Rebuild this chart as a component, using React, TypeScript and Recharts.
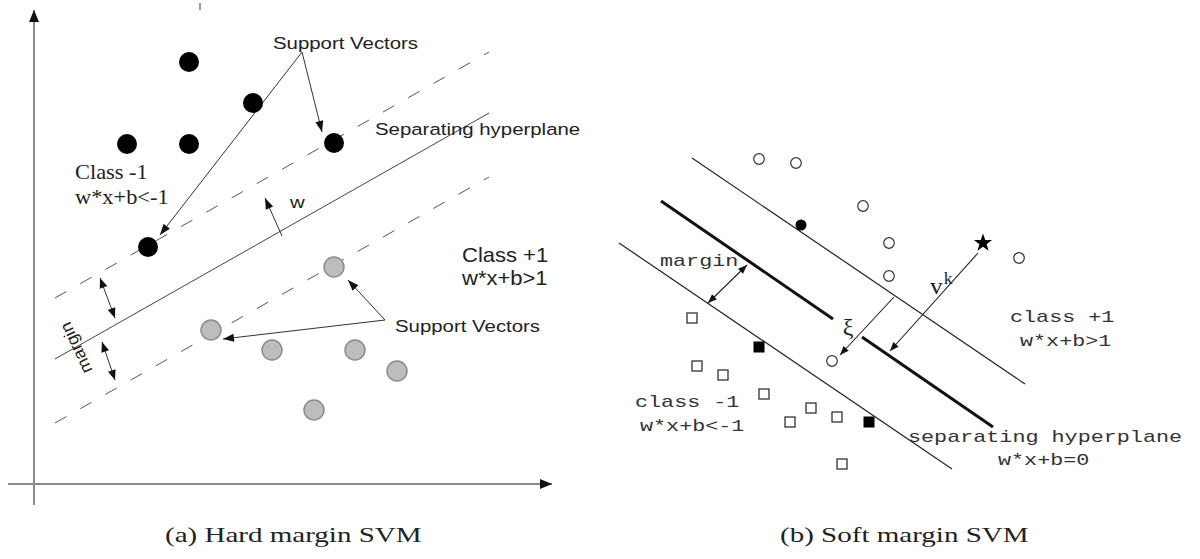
import React from "react";
import { ScatterChart, Scatter, XAxis, YAxis, ReferenceLine } from "recharts";

type Pt = { x: number; y: number };
type Label = { x: number; y: number; text: string; sup?: string };
type Seg = [number, number][];

// ---------- (a) hard margin: 1 unit = 10px, origin where the axes cross ----------
const hardClassNeg: Pt[] = [
  { x: 15.5, y: 42.2 },
  { x: 21.9, y: 38.1 },
  { x: 9.3, y: 34.0 },
  { x: 15.5, y: 34.0 },
  { x: 30.0, y: 34.1 },
  { x: 11.4, y: 23.7 },
];
const hardClassPos: Pt[] = [
  { x: 30.0, y: 21.7 },
  { x: 17.7, y: 15.4 },
  { x: 23.8, y: 13.4 },
  { x: 32.1, y: 13.4 },
  { x: 36.3, y: 11.3 },
  { x: 28.0, y: 7.4 },
];
const hardHyperplane: Seg = [[2.1, 12.5], [45.5, 37.1]];
const hardMarginUpper: Seg = [[2.1, 18.6], [45.5, 43.2]];
const hardMarginLower: Seg = [[2.1, 6.1], [45.5, 30.7]];
const hardAxisY: Seg = [[0, -2.1], [0, 47.4]];
const hardAxisX: Seg = [[-2.6, 0], [51.8, 0]];
const hardTick: Seg = [[16.6, 48.1], [16.6, 47.4]];
const hardPointers: Seg[] = [
  [[26.8, 43.2], [12.6, 24.9]],
  [[26.8, 43.2], [28.8, 35.2]],
  [[35.1, 16.4], [31.4, 20.4]],
  [[35.1, 16.4], [18.9, 14.5]],
  [[24.8, 24.8], [23.1, 28.6]],
];
const hardMarginArrows: Seg[] = [
  [[6.6, 20.6], [8.1, 16.6]],
  [[6.8, 14.2], [8.1, 10.4]],
];
const hardSansLabels: Label[] = [
  { x: 23.9, y: 43.5, text: "Support Vectors" },
  { x: 34.1, y: 34.9, text: "Separating hyperplane" },
  { x: 36.1, y: 15.2, text: "Support Vectors" },
  { x: 25.6, y: 27.6, text: "w" },
];
const hardPosLabels: Label[] = [
  { x: 42.8, y: 22.2, text: "Class +1" },
  { x: 42.8, y: 19.9, text: "w*x+b>1" },
];
const hardNegLabels: Label[] = [
  { x: 4.1, y: 30.5, text: "Class -1" },
  { x: 4.1, y: 28.0, text: "w*x+b<-1" },
];
const hardMarginLabel: Label[] = [{ x: 4.2, y: 13.6, text: "margin" }];
const hardCaption: Label[] = [{ x: 13.1, y: -5.8, text: "(a) Hard margin SVM" }];

// ---------- (b) soft margin: 1 unit = 10px, origin bottom-left of the panel ----------
const softOpenCircles: Pt[] = [
  { x: 15.9, y: 40.0 },
  { x: 19.6, y: 39.6 },
  { x: 26.3, y: 35.3 },
  { x: 28.9, y: 31.6 },
  { x: 28.9, y: 28.3 },
  { x: 41.9, y: 30.1 },
  { x: 23.2, y: 19.8 },
];
const softFilledCircles: Pt[] = [{ x: 20.1, y: 33.4 }];
const softStar: Pt[] = [{ x: 38.3, y: 31.6 }];
const softOpenSquares: Pt[] = [
  { x: 9.2, y: 24.1 },
  { x: 9.7, y: 19.3 },
  { x: 12.3, y: 18.4 },
  { x: 16.4, y: 16.5 },
  { x: 21.1, y: 15.1 },
  { x: 19.0, y: 13.7 },
  { x: 23.7, y: 14.2 },
  { x: 24.2, y: 9.5 },
];
const softFilledSquares: Pt[] = [
  { x: 15.9, y: 21.2 },
  { x: 26.9, y: 13.7 },
];
const softUpper: Seg = [[9.2, 40.1], [42.5, 17.5]];
const softLower: Seg = [[1.9, 31.6], [35.2, 9.0]];
const softHyperplane: Seg[] = [
  [[6.1, 35.8], [23.3, 24.0]],
  [[26.2, 22.2], [39.3, 13.2]],
];
const softPointers: Seg[] = [
  [[29.4, 26.2], [24.0, 20.4]],
  [[37.8, 30.6], [29.0, 20.8]],
];
const softMarginArrow: Seg = [[14.7, 29.4], [10.8, 25.6]];
const softMonoLabels: Label[] = [
  { x: 6.0, y: 29.3, text: "margin" },
  { x: 41.0, y: 23.7, text: "class +1" },
  { x: 42.0, y: 21.3, text: "w*x+b>1" },
  { x: 30.8, y: 11.7, text: "separating hyperplane" },
  { x: 39.8, y: 9.4, text: "w*x+b=0" },
  { x: 3.5, y: 15.2, text: "class -1" },
  { x: 4.0, y: 12.8, text: "w*x+b<-1" },
];
const softXi: Label[] = [{ x: 24.8, y: 22.4, text: "ξ" }];
const softVk: Label[] = [{ x: 33.0, y: 26.5, text: "v", sup: "k" }];
const softCaption: Label[] = [{ x: 18.0, y: 1.7, text: "(b) Soft margin SVM" }];

// ---------- drawing helpers ----------
const SANS = "'Liberation Sans', Arial, sans-serif";
const SERIF = "'Liberation Serif', 'Times New Roman', serif";
const MONO = "'Liberation Mono', 'Courier New', monospace";

type TextStyle = {
  family: string;
  size: number;
  sx: number;
  fill: string;
  anchor?: "start" | "middle" | "end";
  rotate?: number;
  baseline?: string;
};

const textShape = (s: TextStyle) => (p: any) => {
  const d = p.payload ?? p;
  return (
    <text
      transform={`translate(${p.cx},${p.cy}) rotate(${s.rotate ?? 0}) scale(${s.sx},1)`}
      fontFamily={s.family}
      fontSize={s.size}
      fill={s.fill}
      textAnchor={s.anchor ?? "start"}
      dominantBaseline={s.baseline ?? "alphabetic"}
    >
      {d.text}
      {d.sup ? (
        <tspan fontSize={s.size * 0.7} dy={-s.size * 0.45} dx={1}>
          {d.sup}
        </tspan>
      ) : null}
    </text>
  );
};

const circleShape = (r: number, fill: string, stroke = "none", sw = 0) => (p: any) =>
  <circle cx={p.cx} cy={p.cy} r={r} fill={fill} stroke={stroke} strokeWidth={sw} />;

const squareShape = (side: number, fill: string, stroke = "none", sw = 0) => (p: any) =>
  (
    <rect
      x={p.cx - side / 2}
      y={p.cy - side / 2}
      width={side}
      height={side}
      fill={fill}
      stroke={stroke}
      strokeWidth={sw}
    />
  );

const starShape = (outer: number, inner: number) => (p: any) => {
  const pts: string[] = [];
  for (let i = 0; i < 10; i++) {
    const r = i % 2 === 0 ? outer : inner;
    const a = -Math.PI / 2 + (i * Math.PI) / 5;
    pts.push(`${p.cx + r * Math.cos(a)},${p.cy + r * Math.sin(a)}`);
  }
  return <polygon points={pts.join(" ")} fill="#000" />;
};

function headPoints(x: number, y: number, fx: number, fy: number, len: number, half: number) {
  const dx = x - fx;
  const dy = y - fy;
  const l = Math.hypot(dx, dy) || 1;
  const ux = dx / l;
  const uy = dy / l;
  const bx = x - ux * len;
  const by = y - uy * len;
  return `${x},${y} ${bx - uy * half},${by + ux * half} ${bx + uy * half},${by - ux * half}`;
}

type LineStyle = {
  stroke: string;
  width: number;
  dash?: string;
  heads?: 0 | 1 | 2;
  headLen?: number;
  headHalf?: number;
  headFill?: string;
};

const lineShape = (s: LineStyle) => (p: any) => {
  const { x1, y1, x2, y2 } = p;
  const len = s.headLen ?? 10;
  const half = s.headHalf ?? 4;
  const fill = s.headFill ?? s.stroke;
  return (
    <g>
      <line
        x1={x1}
        y1={y1}
        x2={x2}
        y2={y2}
        stroke={s.stroke}
        strokeWidth={s.width}
        strokeDasharray={s.dash}
      />
      {s.heads ? <polygon points={headPoints(x2, y2, x1, y1, len, half)} fill={fill} /> : null}
      {s.heads === 2 ? <polygon points={headPoints(x1, y1, x2, y2, len, half)} fill={fill} /> : null}
    </g>
  );
};

const seg = (key: string, s: Seg, style: LineStyle) => (
  <ReferenceLine
    key={key}
    segment={[
      { x: s[0][0], y: s[0][1] },
      { x: s[1][0], y: s[1][1] },
    ]}
    ifOverflow="visible"
    shape={lineShape(style)}
  />
);

const points = (key: string, data: any[], shape: (p: any) => React.ReactElement) => (
  <Scatter key={key} name={key} data={data} shape={shape} isAnimationActive={false} />
);

const W = 600;
const H = 559;

function HardMargin() {
  const axis: LineStyle = { stroke: "#8a8a8a", width: 2, heads: 1, headLen: 12, headHalf: 5, headFill: "#111" };
  const pointer: LineStyle = { stroke: "#333", width: 1, heads: 1, headLen: 11, headHalf: 4, headFill: "#111" };
  return (
    <ScatterChart width={W} height={H} margin={{ top: 0, right: 0, bottom: 0, left: 0 }}>
      <XAxis type="number" dataKey="x" domain={[-3.4, 56.6]} hide allowDataOverflow />
      <YAxis type="number" dataKey="y" domain={[-7.5, 48.4]} hide allowDataOverflow />
      {seg("axisY", hardAxisY, axis)}
      {seg("axisX", hardAxisX, axis)}
      {seg("tick", hardTick, { stroke: "#777", width: 1.5 })}
      {seg("upper", hardMarginUpper, { stroke: "#555", width: 1, dash: "13 16" })}
      {seg("lower", hardMarginLower, { stroke: "#555", width: 1, dash: "13 16" })}
      {seg("plane", hardHyperplane, { stroke: "#444", width: 1 })}
      {hardPointers.map((s, i) => seg(`ptr${i}`, s, pointer))}
      {hardMarginArrows.map((s, i) =>
        seg(`marg${i}`, s, { ...pointer, heads: 2, headLen: 10, headHalf: 4 })
      )}
      {points("neg", hardClassNeg, circleShape(10, "#000"))}
      {points("pos", hardClassPos, circleShape(10, "#bdbdbd", "#8c8c8c", 1.5))}
      {points("sans", hardSansLabels, textShape({ family: SANS, size: 17, sx: 1.2, fill: "#222" }))}
      {points("posLab", hardPosLabels, textShape({ family: SANS, size: 20, sx: 1.1, fill: "#222" }))}
      {points("negLab", hardNegLabels, textShape({ family: SERIF, size: 20, sx: 1.12, fill: "#222" }))}
      {points(
        "margLab",
        hardMarginLabel,
        textShape({ family: SANS, size: 17, sx: 1.05, fill: "#222", anchor: "middle", rotate: -115, baseline: "central" })
      )}
      {points("cap", hardCaption, textShape({ family: SERIF, size: 22, sx: 1.32, fill: "#222" }))}
    </ScatterChart>
  );
}

function SoftMargin() {
  const thin: LineStyle = { stroke: "#222", width: 1.2 };
  const pointer: LineStyle = { stroke: "#222", width: 1.1, heads: 1, headLen: 9, headHalf: 3.5, headFill: "#111" };
  return (
    <ScatterChart width={W} height={H} margin={{ top: 0, right: 0, bottom: 0, left: 0 }}>
      <XAxis type="number" dataKey="x" domain={[0, 60]} hide allowDataOverflow />
      <YAxis type="number" dataKey="y" domain={[0, 55.9]} hide allowDataOverflow />
      {seg("upper", softUpper, thin)}
      {seg("lower", softLower, thin)}
      {softHyperplane.map((s, i) => seg(`plane${i}`, s, { stroke: "#111", width: 3 }))}
      {softPointers.map((s, i) => seg(`ptr${i}`, s, pointer))}
      {seg("marg", softMarginArrow, { ...pointer, heads: 2 })}
      {points("open", softOpenCircles, circleShape(5.3, "#fff", "#333", 1.2))}
      {points("filled", softFilledCircles, circleShape(5.5, "#000"))}
      {points("star", softStar, starShape(9.5, 3.8))}
      {points("sq", softOpenSquares, squareShape(10, "#fff", "#333", 1.3))}
      {points("sqf", softFilledSquares, squareShape(11, "#000"))}
      {points("mono", softMonoLabels, textShape({ family: MONO, size: 17, sx: 1.28, fill: "#333" }))}
      {points("xi", softXi, textShape({ family: SERIF, size: 24, sx: 1, fill: "#222", anchor: "middle" }))}
      {points("vk", softVk, textShape({ family: SERIF, size: 23, sx: 1.1, fill: "#222" }))}
      {points("cap", softCaption, textShape({ family: SERIF, size: 22, sx: 1.32, fill: "#222" }))}
    </ScatterChart>
  );
}

export default function App() {
  return (
    <div style={{ position: "absolute", left: 0, top: 0, width: 1200, height: 559, background: "#fff" }}>
      <div style={{ position: "absolute", left: 0, top: 0 }}>
        <HardMargin />
      </div>
      <div style={{ position: "absolute", left: 600, top: 0 }}>
        <SoftMargin />
      </div>
    </div>
  );
}
